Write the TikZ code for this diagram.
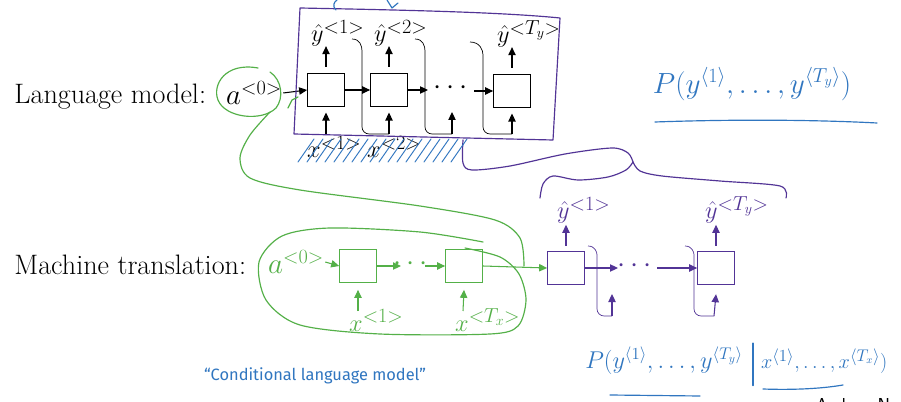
\documentclass[tikz,border=0pt]{standalone}
\usepackage{amsmath}
\usepackage{fontspec}
\newfontfamily\handfont{Fira Sans}
\usepackage{xcolor}
\usetikzlibrary{arrows.meta,positioning}

\DeclareMathSizes{21}{21}{17}{13}
\DeclareMathSizes{24}{24}{18}{14}

\definecolor{encgreen}{RGB}{84,176,72}
\definecolor{decpurple}{RGB}{82,52,150}
\definecolor{penblue}{RGB}{48,118,192}

\tikzset{
  cell/.style={draw, line width=0.9pt, minimum width=1.1cm, minimum height=1.0cm, inner sep=0pt},
  arr/.style={-{Triangle[length=2.4mm,width=2.2mm]}, line width=0.9pt},
  big/.style={font=\fontsize{24}{28}\selectfont, inner sep=1pt},
  lbl/.style={font=\fontsize{21}{24}\selectfont, inner sep=0pt},
  hand/.style={penblue, font=\fontsize{20}{24}\selectfont},
  pen/.style={line width=1pt, line cap=round, line join=round},
  feed/.style={line width=0.6pt, rounded corners=6pt},
}

\begin{document}
\begin{tikzpicture}[x=0.03cm, y=-0.03cm]
    \useasboundingbox[fill=white] (0,0) rectangle (901,402);

    % language model
    \node[big, anchor=west] (lm) at (13,97) {Language model:};
    \node[big] (a0top) at (254,93) {$a^{<0>}$};
    \node[cell] (b1) at (326,90) {};
    \node[cell] (b2) at (389,90) {};
    \node[cell] (b3) at (512,91) {};
    \node[big] (dtop) at (453,88) {$\cdots$};
    \draw[arr] (a0top.east) -- (b1.west);
    \draw[arr] (b1.east) -- (b2.west);
    \coordinate (r2) at (428,90);
    \coordinate (l3) at (474,91);
    \draw[arr] (b2.east) -- (r2);
    \draw[arr] (l3) -- (b3.west);

    % outputs
    \node[lbl, anchor=base west] (hy1) at (311,42) {$\hat{y}^{<1>}$};
    \node[lbl, anchor=base west] (hy2) at (374,42) {$\hat{y}^{<2>}$};
    \node[lbl, anchor=base west] (hy3) at (497,43) {$\hat{y}^{<T_y>}$};
    \foreach \b in {b1,b2,b3}
        \draw[arr] ([yshift=0.18cm]\b.north) -- ([yshift=0.8cm]\b.north);

    % inputs
    \node[lbl, anchor=base west] (x1) at (307,158) {$x^{<1>}$};
    \node[lbl, anchor=base west] (x2) at (367,158) {$x^{<2>}$};
    \coordinate (in1) at (326,134);
    \coordinate (in2) at (389,134);
    \coordinate (in3) at (452,134);
    \coordinate (in4) at (512,134);
    \coordinate (dtip) at (452,112);
    \draw[arr] (in1) -- ([yshift=-0.16cm]b1.south);
    \draw[arr] (in2) -- ([yshift=-0.16cm]b2.south);
    \draw[arr] (in3) -- (dtip);
    \draw[arr] (in4) -- ([yshift=-0.16cm]b3.south);
    \draw[feed] (352,39) .. controls (360,39) and (362,46) .. (362,58) -- (362,134) -- (in2);
    \draw[feed] (415,39) .. controls (423,39) and (425,46) .. (425,58) -- (425,134) -- (in3);
    \draw[feed] (470,42) .. controls (480,42) and (483,50) .. (483,62) -- (483,134) -- (in4);

    % purple frame and brace
    \draw[decpurple, pen] (300,8) .. controls (400,10) and (500,12) .. (560,18)
        -- (553,140) -- (294,134) -- cycle;
    \draw[decpurple, pen] plot[smooth] coordinates {(463,140) (463,163) (472,170) (510,166) (565,154) (612,148) (628,153) (633,162)};
    \draw[decpurple, pen] plot[smooth] coordinates {(540,198) (543,184) (553,176) (578,180) (608,177) (626,170) (633,162)};
    \draw[decpurple, pen] plot[smooth] coordinates {(633,162) (640,171) (662,176) (720,181) (780,186) (786,198)};

    % blue hatching
    \foreach \x in {298,307,...,455}
        \draw[penblue, pen, line width=0.8pt] (\x,162) -- ++(16,-23);
    \draw[penblue, pen] (336,10) .. controls (332,6) and (334,2) .. (337,0);
    \draw[penblue, pen] (387,0) -- (392,8) -- (398,3);

    % machine translation
    \node[big, anchor=west] (mt) at (13,265) {Machine translation:};
    \node[big, encgreen] (a0bot) at (296,262) {$a^{<0>}$};
    \node[cell, draw=encgreen] (g1) at (358,266) {};
    \node[cell, draw=encgreen] (g2) at (464,266) {};
    \node[big, encgreen] (gdots) at (413,264) {$\cdots$};
    \coordinate (gr1) at (401,266);
    \coordinate (gl2) at (425,266);
    \node[cell, draw=decpurple] (p1) at (566,268) {};
    \node[cell, draw=decpurple] (p2) at (716,268) {};
    \node[big, decpurple] (pdots) at (637,266) {$\cdots$};
    \coordinate (pr1) at (618,268);
    \coordinate (pl2) at (657,268);
    \draw[arr, encgreen] (a0bot.east) -- (g1.west);
    \draw[arr, encgreen] (g1.east) -- (gr1);
    \draw[arr, encgreen] (gl2) -- (g2.west);
    \draw[arr, encgreen] (g2.east) -- (p1.west);
    \draw[arr, decpurple] (p1.east) -- (pr1);
    \draw[arr, decpurple] (pl2) -- (p2.west);

    % encoder inputs
    \node[lbl, encgreen, anchor=base west] (gx1) at (349,331) {$x^{<1>}$};
    \node[lbl, encgreen, anchor=base west] (gx2) at (455,331) {$x^{<T_x>}$};
    \coordinate (gin1) at (358,311);
    \coordinate (gin2) at (463,311);
    \draw[arr, encgreen] (gin1) -- ([yshift=-0.2cm]g1.south);
    \draw[arr, encgreen] (gin2) -- ([yshift=-0.2cm]g2.south);

    % decoder outputs
    \node[lbl, decpurple, anchor=base west] (py1) at (557,219) {$\hat{y}^{<1>}$};
    \node[lbl, decpurple, anchor=base west] (py2) at (705,219) {$\hat{y}^{<T_y>}$};
    \foreach \p in {p1,p2}
        \draw[arr, decpurple] ([yshift=0.15cm]\p.north) -- ([yshift=0.78cm]\p.north);
    \coordinate (pin1) at (612,316);
    \coordinate (pin2) at (714,316);
    \coordinate (ptip1) at (612,294);
    \draw[arr, decpurple] (pin1) -- (ptip1);
    \draw[arr, decpurple] (pin2) -- ([yshift=-0.27cm]p2.south);
    \draw[feed, decpurple] (588,246) .. controls (595,246) and (597,252) .. (597,262) -- (597,316) -- (pin1);
    \draw[feed, decpurple] (685,246) .. controls (692,246) and (694,252) .. (694,262) -- (694,316) -- (pin2);

    % green annotations
    \draw[encgreen, pen] (258,68) .. controls (225,62) and (212,85) .. (218,100)
        .. controls (225,118) and (262,122) .. (276,108)
        .. controls (284,98) and (282,80) .. (270,72);
    \draw[encgreen, pen] (288,108) -- (292,100) -- (298,97);
    \draw[encgreen, pen] plot[smooth] coordinates {(270,112) (250,135) (240,158) (250,178) (300,190) (420,206) (495,220) (520,238) (524,266)};
    \draw[encgreen, pen] plot[smooth] coordinates {(483,242) (420,232) (330,228) (282,236) (259,262) (266,300) (300,325) (380,334) (490,334) (518,326) (526,300) (519,274) (500,257) (465,248)};

    % blue handwriting
    \node[hand, font=\fontsize{23}{27}\selectfont] (pjoint) at (752,84)
        {$P(y^{\langle 1\rangle},\ldots,y^{\langle T_y\rangle})$};
    \draw[penblue, pen] (655,122) .. controls (740,119) and (820,120) .. (877,123);
    \node[penblue, font=\handfont\fontsize{14}{18}\selectfont] (cond) at (315,376)
        {“Conditional language model”};
    \node[hand, anchor=east] (pleft) at (747,361)
        {$P(y^{\langle 1\rangle},\ldots,y^{\langle T_y\rangle}$};
    \node[hand, font=\fontsize{19}{23}\selectfont, anchor=west] (pright) at (757,361)
        {$x^{\langle 1\rangle},\ldots,x^{\langle T_x\rangle})$};
    \draw[penblue, pen] ([xshift=0.18cm]pleft.north east) -- ([xshift=0.18cm,yshift=-0.2cm]pleft.south east);
    \draw[penblue, pen] (610,395) -- (700,396);
    \draw[penblue, pen] (763,389) .. controls (790,390) and (820,389) .. (843,385);

    \node[font=\sffamily\fontsize{16}{18}\selectfont, anchor=north west] (credit) at (812,394) {Andrew Ng};
\end{tikzpicture}
\end{document}
